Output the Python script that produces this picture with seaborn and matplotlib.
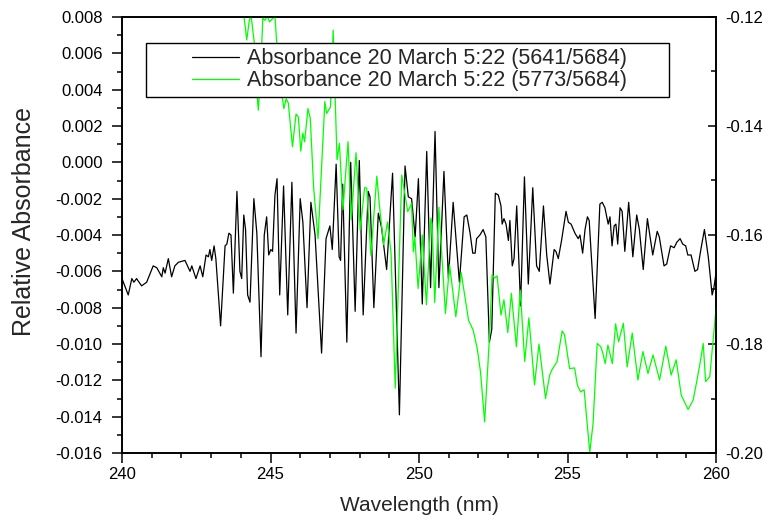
import numpy as np
import pandas as pd
import matplotlib
matplotlib.use("Agg")
import matplotlib.pyplot as plt
from matplotlib.patches import Rectangle
from matplotlib.ticker import MultipleLocator, FormatStrFormatter
import seaborn as sns

# ---- data ----
wl_black = [240.00, 240.21, 240.33, 240.40, 240.49, 240.66, 240.83, 241.05, 241.17, 241.34,
            241.39, 241.45, 241.56, 241.67, 241.78, 241.90, 242.12, 242.29, 242.35, 242.49,
            242.63, 242.72, 242.83, 242.91, 242.96, 243.02, 243.10, 243.16, 243.32, 243.47,
            243.53, 243.60, 243.67, 243.75, 243.87, 243.97, 244.03, 244.10, 244.16, 244.23,
            244.31, 244.44, 244.54, 244.68, 244.79, 244.87, 244.94, 245.01, 245.07, 245.15,
            245.22, 245.31, 245.44, 245.58, 245.72, 245.86, 246.00, 246.09, 246.23, 246.36,
            246.50, 246.72, 246.87, 247.00, 247.08, 247.21, 247.31, 247.36, 247.43, 247.57,
            247.70, 247.85, 247.99, 248.12, 248.29, 248.35, 248.48, 248.63, 248.74, 248.91,
            249.11, 249.34, 249.53, 249.64, 249.75, 249.87, 249.98, 250.11, 250.26, 250.39,
            250.54, 250.67, 250.84, 250.99, 251.15, 251.36, 251.52, 251.61, 251.72, 251.81,
            251.89, 251.94, 252.05, 252.16, 252.25, 252.37, 252.45, 252.57, 252.67, 252.76,
            252.80, 252.86, 252.93, 253.01, 253.06, 253.14, 253.20, 253.29, 253.42, 253.55,
            253.68, 253.83, 253.96, 254.05, 254.19, 254.30, 254.41, 254.55, 254.61, 254.69,
            254.80, 254.95, 255.03, 255.12, 255.25, 255.36, 255.42, 255.51, 255.59, 255.67,
            255.73, 255.93, 256.09, 256.17, 256.26, 256.37, 256.43, 256.50, 256.57, 256.63,
            256.69, 256.77, 256.84, 256.93, 257.06, 257.20, 257.33, 257.42, 257.55, 257.69,
            257.87, 258.02, 258.09, 258.25, 258.34, 258.47, 258.59, 258.68, 258.79, 258.88,
            258.98, 259.05, 259.16, 259.29, 259.38, 259.49, 259.61, 259.74, 259.87, 259.93,
            260.00]
abs_black = [-0.0064, -0.0073, -0.0064, -0.0066, -0.0064, -0.0068, -0.0066, -0.0057, -0.0058, -0.0063,
             -0.0058, -0.0061, -0.0053, -0.0063, -0.0057, -0.0055, -0.0054, -0.0060, -0.0057, -0.0064,
             -0.0057, -0.0063, -0.0051, -0.0052, -0.0048, -0.0054, -0.0046, -0.0053, -0.0090, -0.0046,
             -0.0045, -0.0039, -0.0040, -0.0072, -0.0016, -0.0060, -0.0064, -0.0029, -0.0037, -0.0073,
             -0.0077, -0.0020, -0.0039, -0.0107, -0.0040, -0.0030, -0.0051, -0.0048, -0.0049, -0.0018,
             -0.0009, -0.0073, -0.0013, -0.0084, -0.0011, -0.0094, -0.0020, -0.0033, -0.0080, -0.0022,
             -0.0040, -0.0105, -0.0042, -0.0035, -0.0048, -0.0001, -0.0052, -0.0054, -0.0012, -0.0099,
             0.0000, -0.0082, 0.0001, -0.0084, -0.0016, -0.0019, -0.0080, -0.0028, -0.0036, -0.0059,
             -0.0006, -0.0139, -0.0002, -0.0019, -0.0020, -0.0041, -0.0009, -0.0078, 0.0006, -0.0069,
             0.0017, -0.0069, -0.0005, -0.0064, -0.0022, -0.0066, -0.0030, -0.0029, -0.0039, -0.0050,
             -0.0050, -0.0042, -0.0040, -0.0037, -0.0041, -0.0099, -0.0092, -0.0017, -0.0018, -0.0024,
             -0.0034, -0.0031, -0.0034, -0.0043, -0.0032, -0.0057, -0.0053, -0.0024, -0.0079, -0.0008,
             -0.0067, -0.0014, -0.0057, -0.0060, -0.0024, -0.0051, -0.0067, -0.0048, -0.0049, -0.0053,
             -0.0043, -0.0027, -0.0033, -0.0034, -0.0039, -0.0042, -0.0040, -0.0050, -0.0037, -0.0030,
             -0.0032, -0.0086, -0.0023, -0.0022, -0.0025, -0.0034, -0.0030, -0.0046, -0.0035, -0.0034,
             -0.0045, -0.0025, -0.0027, -0.0049, -0.0022, -0.0052, -0.0029, -0.0037, -0.0059, -0.0031,
             -0.0051, -0.0038, -0.0041, -0.0057, -0.0056, -0.0046, -0.0047, -0.0044, -0.0042, -0.0045,
             -0.0046, -0.0051, -0.0051, -0.0060, -0.0059, -0.0048, -0.0037, -0.0052, -0.0073, -0.0069,
             -0.0061]

wl_green = [243.90, 244.11, 244.20, 244.28, 244.34, 244.45, 244.53, 244.59, 244.67, 244.74,
            244.81, 244.89, 244.97, 245.05, 245.15, 245.25, 245.33, 245.45, 245.53, 245.60,
            245.74, 245.86, 245.94, 246.02, 246.09, 246.15, 246.26, 246.34, 246.45, 246.60,
            246.83, 246.89, 247.02, 247.11, 247.24, 247.32, 247.44, 247.61, 247.72, 247.88,
            248.02, 248.17, 248.24, 248.38, 248.58, 248.66, 248.81, 248.94, 249.06, 249.20,
            249.42, 249.62, 249.75, 249.81, 249.86, 249.97, 250.11, 250.25, 250.40, 250.44,
            250.53, 250.67, 250.89, 251.03, 251.24, 251.42, 251.67, 251.82, 251.96, 252.07,
            252.21, 252.38, 252.46, 252.54, 252.63, 252.76, 252.86, 252.99, 253.11, 253.28,
            253.41, 253.56, 253.70, 253.89, 254.04, 254.26, 254.40, 254.47, 254.65, 254.82,
            254.90, 255.07, 255.24, 255.33, 255.44, 255.56, 255.75, 255.86, 256.00, 256.12,
            256.19, 256.27, 256.36, 256.51, 256.62, 256.72, 256.88, 257.01, 257.18, 257.37,
            257.54, 257.71, 257.88, 258.10, 258.31, 258.49, 258.66, 258.83, 259.06, 259.23,
            259.34, 259.46, 259.57, 259.65, 259.79, 260.00]
abs_green = [-0.1100, -0.1200, -0.1242, -0.1209, -0.1195, -0.1245, -0.1330, -0.1371, -0.1300, -0.1202,
             -0.1206, -0.1199, -0.1209, -0.1204, -0.1199, -0.1280, -0.1320, -0.1368, -0.1350, -0.1358,
             -0.1438, -0.1378, -0.1384, -0.1446, -0.1413, -0.1429, -0.1368, -0.1386, -0.1511, -0.1607,
             -0.1355, -0.1377, -0.1365, -0.1224, -0.1462, -0.1432, -0.1554, -0.1429, -0.1572, -0.1449,
             -0.1591, -0.1513, -0.1514, -0.1637, -0.1492, -0.1542, -0.1618, -0.1576, -0.1634, -0.1881,
             -0.1490, -0.1557, -0.1542, -0.1631, -0.1604, -0.1698, -0.1600, -0.1728, -0.1569, -0.1579,
             -0.1724, -0.1549, -0.1744, -0.1655, -0.1750, -0.1669, -0.1757, -0.1774, -0.1808, -0.1851,
             -0.1943, -0.1780, -0.1673, -0.1679, -0.1675, -0.1747, -0.1719, -0.1779, -0.1707, -0.1805,
             -0.1701, -0.1832, -0.1752, -0.1875, -0.1800, -0.1900, -0.1857, -0.1848, -0.1832, -0.1776,
             -0.1783, -0.1845, -0.1844, -0.1875, -0.1888, -0.1884, -0.1999, -0.1946, -0.1799, -0.1805,
             -0.1817, -0.1836, -0.1802, -0.1836, -0.1763, -0.1796, -0.1762, -0.1842, -0.1780, -0.1866,
             -0.1814, -0.1854, -0.1820, -0.1866, -0.1804, -0.1857, -0.1829, -0.1894, -0.1920, -0.1903,
             -0.1872, -0.1836, -0.1799, -0.1869, -0.1860, -0.1735]

label_black = "Absorbance 20 March 5:22 (5641/5684)"
label_green = "Absorbance 20 March 5:22 (5773/5684)"
x_label = "Wavelength (nm)"
y_label = "Relative Absorbance"

# ---- style ----
sns.set_theme(style="ticks")
plt.rcParams['font.family'] = ['Liberation Sans', 'DejaVu Sans']

df_black = pd.DataFrame({"wl": wl_black, "val": abs_black})
df_green = pd.DataFrame({"wl": wl_green, "val": abs_green})

fig = plt.figure(figsize=(7.68, 5.24), dpi=100)
ax = fig.add_axes([122/768, 1 - 453/524, (716-122)/768, (453-17)/524])
ax2 = ax.twinx()

sns.lineplot(data=df_black, x="wl", y="val", ax=ax, color="black", lw=0.9,
             estimator=None, sort=False, label=label_black, legend=False)
sns.lineplot(data=df_green, x="wl", y="val", ax=ax2, color="#00ff00", lw=0.9,
             estimator=None, sort=False, label=label_green, legend=False)

ax.set_xlim(240, 260)
ax.set_ylim(-0.016, 0.008)
ax2.set_ylim(-0.20, -0.12)

ax.xaxis.set_major_locator(MultipleLocator(5))
ax.xaxis.set_minor_locator(MultipleLocator(1))
ax.yaxis.set_major_locator(MultipleLocator(0.002))
ax.yaxis.set_minor_locator(MultipleLocator(0.001))
ax.yaxis.set_major_formatter(FormatStrFormatter('%.3f'))
ax2.yaxis.set_major_locator(MultipleLocator(0.02))
ax2.yaxis.set_minor_locator(MultipleLocator(0.01))
ax2.yaxis.set_major_formatter(FormatStrFormatter('%.2f'))

for a in (ax, ax2):
    for s in a.spines.values():
        s.set_linewidth(1.2)
        s.set_color("black")

ax.tick_params(axis='both', which='major', direction='out', length=7, width=1.1,
               labelsize=12, colors='black', top=False)
ax.tick_params(axis='both', which='minor', direction='out', length=3.5, width=1.1,
               colors='black', top=False)
ax.tick_params(axis='x', pad=3)
ax.tick_params(axis='y', pad=7)
ax2.tick_params(axis='y', which='major', direction='in', length=6, width=1.1,
                labelsize=12, colors='black', pad=7)
ax2.tick_params(axis='y', which='minor', direction='in', length=3.5, width=1.1, colors='black')

ax.set_xlabel(x_label, fontsize=15, labelpad=10)
ax.set_ylabel(y_label, fontsize=18, labelpad=14)
ax.yaxis.label.set_y(0.532)
ax2.set_ylabel("")

# legend box
rect = Rectangle((0.040, 0.816), 0.881, 0.125, transform=ax2.transAxes,
                 facecolor="white", edgecolor="black", lw=1.0, zorder=5)
ax2.add_patch(rect)
h1, l1 = ax.get_legend_handles_labels()
h2, l2 = ax2.get_legend_handles_labels()
leg = ax2.legend(h1 + h2, l1 + l2, loc='center left', bbox_to_anchor=(0.118, 0.879),
                 frameon=False, fontsize=15.5, borderpad=0, borderaxespad=0,
                 handlelength=2.2, handletextpad=0.35, labelspacing=0.05)
leg.set_zorder(6)

fig.savefig("out.png", dpi=100)
